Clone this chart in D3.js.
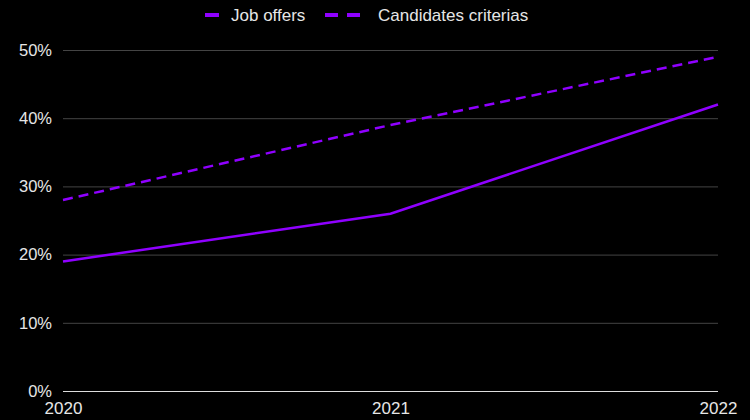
<!DOCTYPE html>
<html>
<head>
<meta charset="utf-8">
<script src="https://cdn.jsdelivr.net/npm/d3@7"></script>
<style>
  body { margin: 0; background: #000; }
  svg { display: block; font-family: "Liberation Sans", Arial, sans-serif; }
</style>
</head>
<body>
<div id="chart"></div>
<script>
let years = ["2020", "2021", "2022"];
let jobOffers = [19, 26, 42];
let candidatesCriterias = [28, 39, 49];
let yTicks = [0, 10, 20, 30, 40, 50];
let seriesNames = ["Job offers", "Candidates criterias"];
let purple = "#8f00ff";

const wSvg = 750;
const hSvg = 420;
const padLeft = 63;
const padRight = 718;
const padTop = 50;
const padBottom = 391;

let xScale = d3.scalePoint(years, [padLeft, padRight]);
let yScale = d3.scaleLinear([0, 50], [padBottom, padTop]);

let svg = d3.select("#chart")
    .append("svg")
    .attr("width", wSvg)
    .attr("height", hSvg)
    .style("background-color", "black");

// grid lines + y labels
let yAxis = d3.axisLeft(yScale).tickValues(yTicks).tickFormat(d => d + "%")
    .tickSize(-(padRight - padLeft)).tickPadding(11);
let yG = svg.append("g")
    .attr("transform", `translate(${padLeft}, 0)`)
    .call(yAxis);
yG.select(".domain").remove();
yG.selectAll(".tick line").attr("stroke", "#444");
yG.selectAll(".tick line").filter(d => d === 0).attr("stroke", "#ddd");
yG.selectAll("text").attr("fill", "#e6e6e6").style("font-size", "16.5px");

// x labels
let xAxis = d3.axisBottom(xScale).tickSize(0).tickPadding(11);
let xG = svg.append("g")
    .attr("transform", `translate(0, ${padBottom})`)
    .call(xAxis);
xG.select(".domain").remove();
xG.selectAll("text").attr("fill", "#e6e6e6").style("font-size", "17px");

let line = d3.line()
    .x((d, i) => xScale(years[i]))
    .y(d => yScale(d));

svg.append("path")
    .attr("d", line(candidatesCriterias))
    .attr("fill", "none")
    .attr("stroke", purple)
    .attr("stroke-width", 2.5)
    .attr("stroke-dasharray", "10,6");

svg.append("path")
    .attr("d", line(jobOffers))
    .attr("fill", "none")
    .attr("stroke", purple)
    .attr("stroke-width", 2.5);

// legend
let legend = svg.append("g").attr("transform", "translate(0, 15)");
legend.append("line")
    .attr("x1", 205).attr("x2", 219).attr("y1", 0).attr("y2", 0)
    .attr("stroke", purple).attr("stroke-width", 4);
legend.append("text")
    .attr("x", 231).attr("y", 0).attr("dy", "0.35em")
    .attr("fill", "#e6e6e6").style("font-size", "17px")
    .text(seriesNames[0]);
legend.append("line")
    .attr("x1", 325).attr("x2", 361).attr("y1", 0).attr("y2", 0)
    .attr("stroke", purple).attr("stroke-width", 4)
    .attr("stroke-dasharray", "13,9");
legend.append("text")
    .attr("x", 378).attr("y", 0).attr("dy", "0.35em")
    .attr("fill", "#e6e6e6").style("font-size", "17px")
    .text(seriesNames[1]);
</script>
</body>
</html>
